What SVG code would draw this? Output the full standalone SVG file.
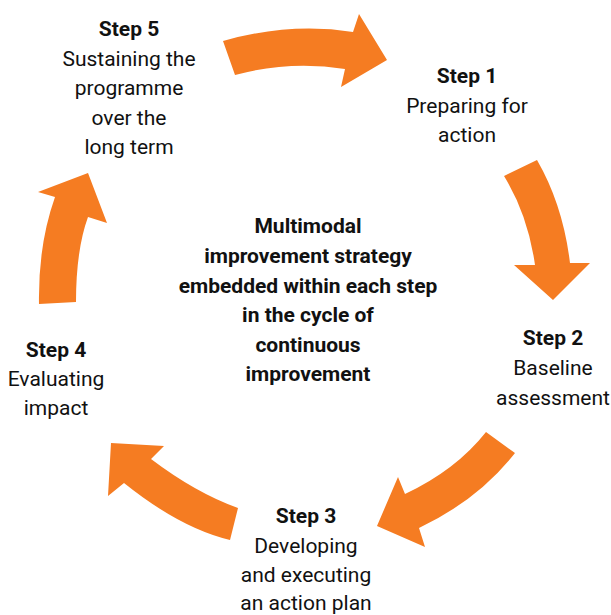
<svg xmlns="http://www.w3.org/2000/svg" width="611" height="615" viewBox="0 0 611 615">
<style>
.arrow{fill:#F57C22;stroke:none}
text{font-family:Roboto,"Liberation Sans",sans-serif;font-size:21px;fill:#111111;text-anchor:middle}
.b{font-weight:bold}
</style>
<rect width="611" height="615" fill="#ffffff"/>
<g id="connectors">
<path id="arrow1" class="arrow" d="M 223,41 Q 290,22 353,32 L 359,14 L 387,60 L 341,87 L 345,69 Q 290,60 235,75 Z"/>
<path id="arrow2" class="arrow" d="M 504,176 L 537,160 Q 563,205 570,263 L 590,263 L 553,300 L 514,265 L 535,265 Q 528,215 504,176 Z"/>
<path id="arrow3" class="arrow" d="M 486,432 L 515,453 Q 478,500 419,528 L 425,547 L 377,526 L 398,477 L 405,494 Q 456,470 486,432 Z"/>
<path id="arrow4" class="arrow" d="M 111,443 L 164,446 L 151,459 Q 196,493 238,508 L 230,540 Q 180,528 124,483 L 108,496 Z"/>
<path id="arrow5" class="arrow" d="M 39,304 L 76,302 Q 76,250 88,217 L 107,223 L 88,173 L 38,192 L 55,197 Q 38,245 39,304 Z"/>
</g>
<g id="center">
<text class="b" x="308" y="233">Multimodal</text>
<text class="b" x="308" y="263">improvement strategy</text>
<text class="b" x="308" y="293">embedded within each step</text>
<text class="b" x="308" y="322">in the cycle of</text>
<text class="b" x="308" y="352">continuous</text>
<text class="b" x="308" y="381">improvement</text>
</g>
<g id="step1">
<text class="b" x="467" y="83">Step 1</text>
<text x="467" y="112.5">Preparing for</text>
<text x="467" y="142">action</text>
</g>
<g id="step2">
<text class="b" x="553" y="345">Step 2</text>
<text x="553" y="375">Baseline</text>
<text x="553" y="404.5">assessment</text>
</g>
<g id="step3">
<text class="b" x="306" y="523">Step 3</text>
<text x="306" y="552.5">Developing</text>
<text x="306" y="581.5">and executing</text>
<text x="306" y="610">an action plan</text>
</g>
<g id="step4">
<text class="b" x="56" y="357">Step 4</text>
<text x="56" y="386">Evaluating</text>
<text x="56" y="415">impact</text>
</g>
<g id="step5">
<text class="b" x="129" y="36">Step 5</text>
<text x="129" y="65.5">Sustaining the</text>
<text x="129" y="95">programme</text>
<text x="129" y="124.5">over the</text>
<text x="129" y="154">long term</text>
</g>
</svg>
